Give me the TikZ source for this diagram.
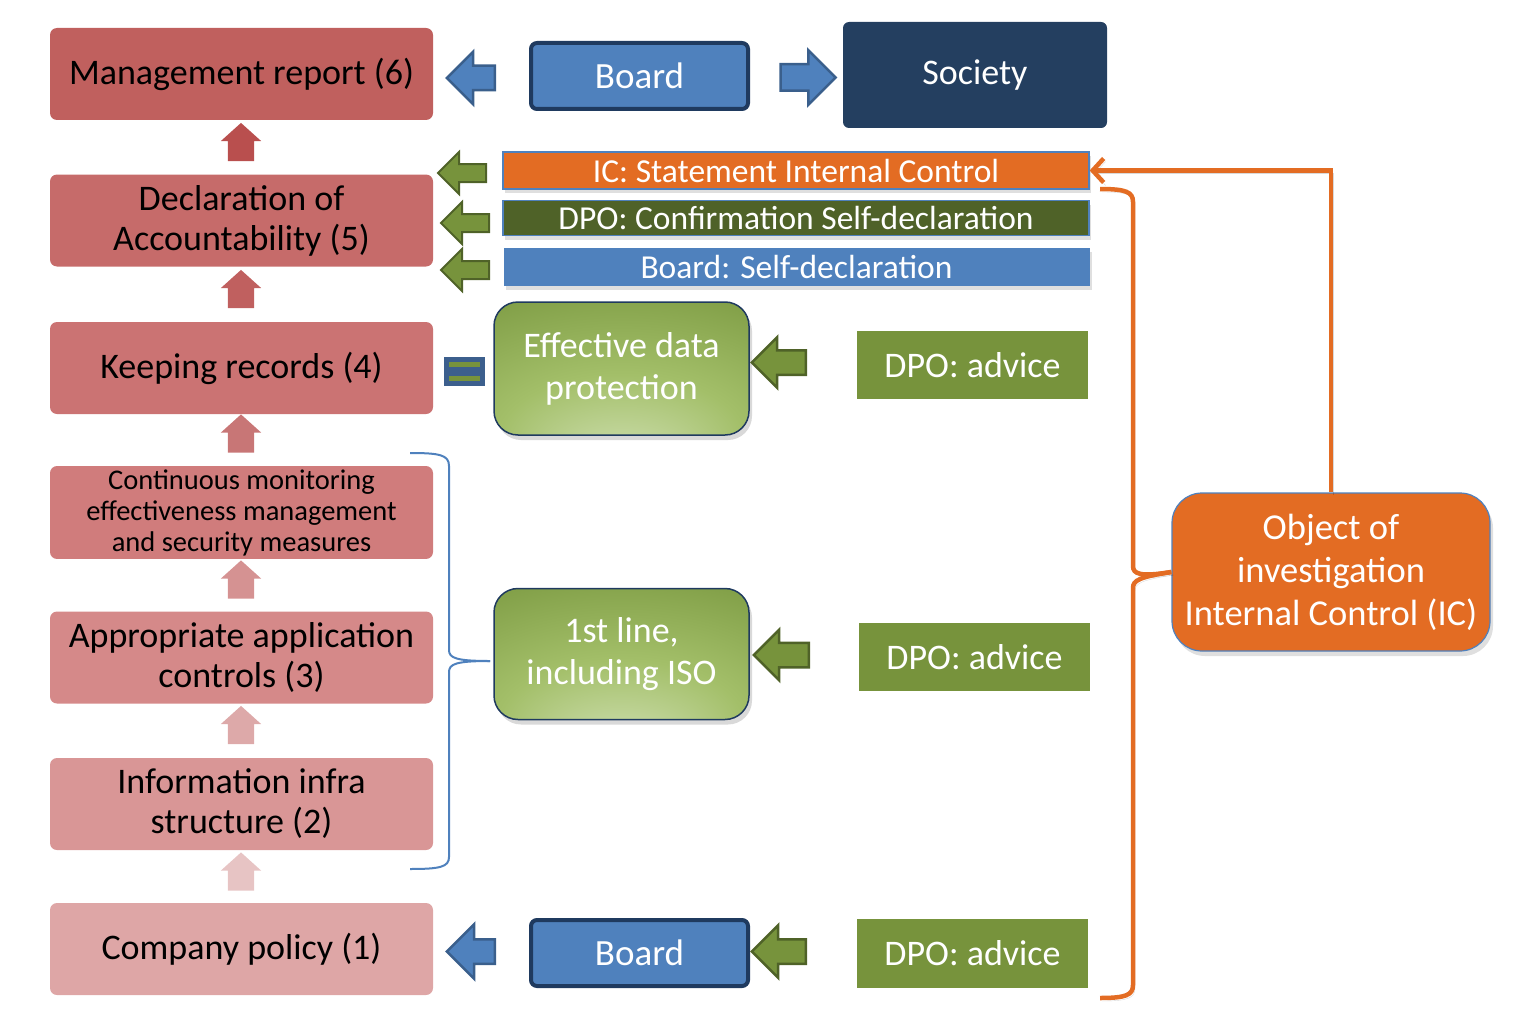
\documentclass[tikz,border=0pt]{standalone}
\usepackage{fontspec}
\setmainfont{Carlito}
\usepackage{tikz}
\usetikzlibrary{shapes,shapes.arrows,shadows,arrows.meta,positioning}

\definecolor{redsix}{HTML}{C0605E}
\definecolor{redfive}{HTML}{C66B6A}
\definecolor{redfour}{HTML}{CB7373}
\definecolor{redmon}{HTML}{D07C7C}
\definecolor{redthree}{HTML}{D58989}
\definecolor{redtwo}{HTML}{D99696}
\definecolor{redone}{HTML}{DEA6A6}
\definecolor{upa}{HTML}{B94F4E}
\definecolor{upb}{HTML}{C0605F}
\definecolor{upc}{HTML}{C87676}
\definecolor{upd}{HTML}{D59292}
\definecolor{upe}{HTML}{DDA9A9}
\definecolor{upf}{HTML}{E7C4C4}
\definecolor{boardblue}{HTML}{4F81BD}
\definecolor{boardline}{HTML}{1F3A5F}
\definecolor{societyblue}{HTML}{243F60}
\definecolor{arrowblueline}{HTML}{3A5F8C}
\definecolor{icorange}{HTML}{E36C23}
\definecolor{dpodark}{HTML}{4F6228}
\definecolor{advicegreen}{HTML}{77933C}
\definecolor{glowlight}{HTML}{C2D69C}
\definecolor{glowsoft}{HTML}{A3BF69}
\definecolor{glowmid}{HTML}{7F9D45}
\definecolor{glowdark}{HTML}{5F7A30}
\definecolor{eqblue}{HTML}{3C5F8D}

\pgfdeclareradialshading{greenglow}{\pgfpoint{0bp}{-38bp}}{%
  color(0bp)=(glowlight); color(8bp)=(glowlight); color(24bp)=(glowsoft);
  color(48bp)=(glowmid); color(78bp)=(glowdark)}

\begin{document}
\begin{tikzpicture}[x=1pt,y=-1pt,
    redbox/.style={rectangle,rounded corners=7pt,minimum width=383pt,minimum height=92pt,
      align=center,text=black,font=\fontsize{36}{40}\selectfont},
    uparrow/.style={single arrow,shape border rotate=90,minimum height=36pt,inner sep=13pt,
      single arrow head extend=7pt,single arrow tip angle=96},
    bluearrow/.style={single arrow,shape border rotate=180,inner sep=11pt,fill=boardblue,
      draw=arrowblueline,line width=2.5pt,single arrow tip angle=90},
    greenarrow/.style={single arrow,shape border rotate=180,inner sep=11pt,fill=advicegreen,
      draw=dpodark,line width=2.5pt,single arrow tip angle=90},
    boardbox/.style={rectangle,rounded corners=6pt,fill=boardblue,draw=boardline,line width=4pt,
      minimum width=217pt,minimum height=66pt,text=white,font=\fontsize{37}{42}\selectfont},
    bar/.style={rectangle,draw=boardblue,line width=1.2pt,minimum width=586pt,text=white,
      font=\fontsize{33.5}{38}\selectfont,inner sep=0pt,
      drop shadow={shadow xshift=2pt,shadow yshift=-4pt,opacity=0.25}},
    glowbox/.style={rectangle,rounded corners=24pt,shading=greenglow,draw=boardline,line width=1.5pt,
      minimum width=255pt,minimum height=133pt,align=center,text=white,
      font=\fontsize{36}{42}\selectfont,
      drop shadow={shadow xshift=3pt,shadow yshift=-5pt,opacity=0.3}},
    advice/.style={rectangle,fill=advicegreen,minimum width=231pt,minimum height=68pt,
      text=white,font=\fontsize{36}{42}\selectfont},
    bracket/.style={line width=2pt,draw=boardblue},
    orangeline/.style={line width=4.5pt,draw=icorange,
      preaction={draw=black,opacity=0.15,transform canvas={shift={(2pt,-3pt)}}}}]

  \useasboundingbox (0,0) rectangle (1536,1030);

  % Left column, bottom to top
  \node[redbox,fill=redone] (policy) at (241.5,949) {Company policy (1)};
  \node[redbox,fill=redtwo] (infra) at (241.5,804) {Information infra\\structure (2)};
  \node[redbox,fill=redthree] (appctrl) at (241.5,657.5) {Appropriate application\\controls (3)};
  \node[redbox,fill=redmon,font=\fontsize{28.5}{31}\selectfont] (monitor) at (241.5,512.5)
    {Continuous monitoring\\effectiveness management\\and security measures};
  \node[redbox,fill=redfour] (records) at (241.5,368) {Keeping records (4)};
  \node[redbox,fill=redfive] (declare) at (241.5,220.5) {Declaration of\\Accountability (5)};
  \node[redbox,fill=redsix] (mgmt) at (241.5,74) {Management report (6)};

  % Up arrows between the steps
  \node[uparrow,fill=upf] (upa) at (241,877.5) {};
  \node[uparrow,fill=upe] (upb) at (241,731) {};
  \node[uparrow,fill=upd] (upc) at (241,585.5) {};
  \node[uparrow,fill=upc] (upd) at (241,439.5) {};
  \node[uparrow,fill=upb] (upe) at (241,295) {};
  \node[uparrow,fill=upa] (upf) at (241,148) {};

  % Top row
  \node[boardbox] (boardtop) at (639.5,76) {Board};
  \node[rectangle,rounded corners=6pt,fill=societyblue,minimum width=264pt,minimum height=106pt,
    text=white,font=\fontsize{36}{42}\selectfont] (society) at (975,75) {Society};
  \node[bluearrow,minimum height=48pt,single arrow head extend=14pt] (toreport) at (477,78) {};
  \node[bluearrow,shape border rotate=0,minimum height=55pt,single arrow head extend=14pt,inner sep=12pt]
    (tosociety) at (801.5,77.5) {};

  % Statements
  \node[bar,fill=icorange,minimum height=37pt] (icbar) at (796,170.5) {IC: Statement Internal Control};
  \node[bar,fill=dpodark,minimum height=35pt] (dpobar) at (796,218) {DPO: Confirmation Self-declaration};
  \node[bar,fill=boardblue,draw=none,minimum height=38pt] (boardbar) at (796.5,266.5) {Board: Self-declaration};
  \node[greenarrow,minimum height=48pt,inner sep=8pt,line width=2pt,single arrow head extend=12pt]
    (fromic) at (466.5,173) {};
  \node[greenarrow,minimum height=48pt,inner sep=8pt,line width=2pt,single arrow head extend=12pt]
    (fromdpo) at (469.5,223) {};
  \node[greenarrow,minimum height=48pt,inner sep=8pt,line width=2pt,single arrow head extend=12pt]
    (fromboard) at (469.5,270) {};

  % Keeping records = effective data protection
  \node[glowbox] (effdp) at (621.5,368.5) {Effective data\\protection};
  \node[rectangle,fill=eqblue,minimum width=41pt,minimum height=29pt,inner sep=0pt] (eqsign) at (464.5,371.5) {};
  \fill[advicegreen] ([shift={(5,5)}]eqsign.north west) rectangle ([shift={(-5,10)}]eqsign.north east);
  \fill[advicegreen] ([shift={(5,-10)}]eqsign.south west) rectangle ([shift={(-5,-5)}]eqsign.south east);
  \node[advice] (advicea) at (972.5,365) {DPO: advice};
  \node[greenarrow,minimum height=54pt,single arrow head extend=13pt] (arra) at (785,362.5) {};

  % First line
  \node[glowbox,minimum height=131pt] (firstline) at (621.5,654) {1st line,\\including ISO};
  \node[advice] (adviceb) at (974.5,657) {DPO: advice};
  \node[greenarrow,minimum height=55pt,single arrow head extend=13pt] (arrb) at (787.5,655) {};
  \draw[bracket] (410,453) .. controls (440,453) and (449,455) .. (449,466) -- (449,650)
    .. controls (449,658) and (456,661) .. (490,661);
  \draw[bracket] (490,661) .. controls (456,661) and (449,664) .. (449,672) -- (449,857)
    .. controls (449,867) and (440,869) .. (410,869);

  % Bottom row
  \node[boardbox] (boardbot) at (639.5,953) {Board};
  \node[advice,minimum height=69pt] (advicec) at (972.5,953.5) {DPO: advice};
  \node[bluearrow,minimum height=48pt,single arrow head extend=15pt] (topolicy) at (477,951.5) {};
  \node[greenarrow,minimum height=54pt,single arrow head extend=14pt] (arrc) at (785,951.5) {};

  % Internal control
  \node[rectangle,rounded corners=30pt,fill=icorange,draw=boardblue,line width=1.2pt,
    minimum width=318pt,minimum height=158pt,align=center,text=white,
    font=\fontsize{36.5}{43}\selectfont,
    drop shadow={shadow xshift=3pt,shadow yshift=-5pt,opacity=0.25}] (objbox) at (1331,572)
    {Object of\\investigation\\Internal Control (IC)};
  \draw[orangeline,-{Straight Barb[length=11pt,width=24pt]}] (objbox.north) |- (icbar.east);
  \draw[orangeline] (1100,189) .. controls (1126,189) and (1133,192) .. (1133,202) -- (1133,566)
    .. controls (1133,574) and (1140,577) .. (objbox.west);
  \draw[orangeline] (objbox.west) .. controls (1140,577) and (1133,580) .. (1133,588) -- (1133,985)
    .. controls (1133,995) and (1126,998) .. (1100,998);
\end{tikzpicture}
\end{document}
